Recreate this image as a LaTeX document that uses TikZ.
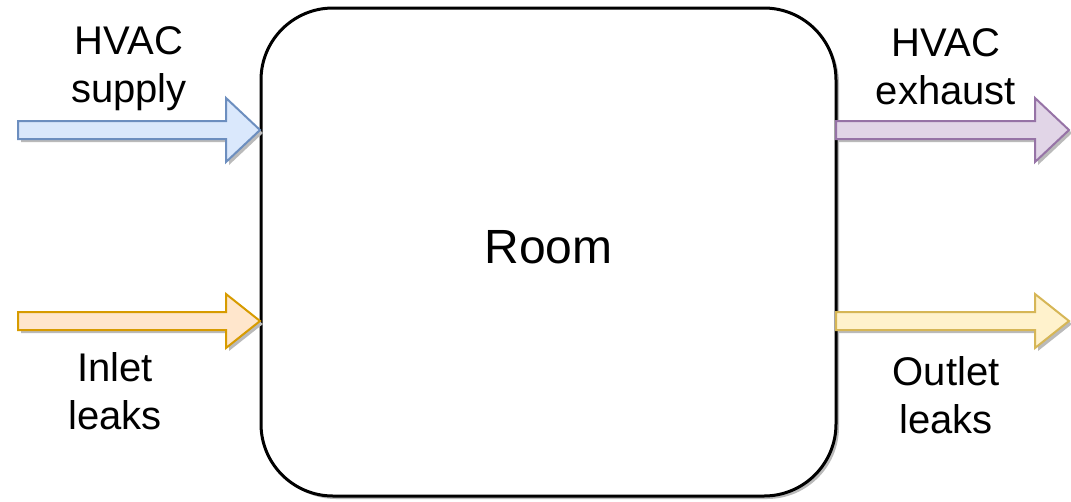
\documentclass[tikz,border=0pt]{standalone}
\usepackage{fontspec}
\setmainfont{Liberation Sans}
\usetikzlibrary{shadows}
\definecolor{supfill}{HTML}{DAE8FC}\definecolor{supline}{HTML}{6C8EBF}
\definecolor{exhfill}{HTML}{E1D5E7}\definecolor{exhline}{HTML}{9673A6}
\definecolor{inlfill}{HTML}{FFE6CC}\definecolor{inlline}{HTML}{D79B00}
\definecolor{outfill}{HTML}{FFF2CC}\definecolor{outline}{HTML}{D6B656}
\tikzset{
  shade box/.style={drop shadow={shadow xshift=2.25pt,shadow yshift=-2.25pt,fill=black!27,opacity=1}},
  roombox/.style={draw,line width=2.25pt,rounded corners=54pt,fill=white,shade box,text depth=7.5pt,font=\fontsize{36}{42}\selectfont},
  flowlabel/.style={align=center,font=\fontsize{30}{36}\selectfont}
}
% tail x, tip x, y, head half-height, colours
\newcommand{\flow}[6]{\draw[line width=1.5pt,draw=#6,fill=#5,shade box] (#1,#3-9) -- (#2-34,#3-9) -- (#2-34,#3-#4) -- (#2,#3) -- (#2-34,#3+#4) -- (#2-34,#3+9) -- (#1,#3+9) -- cycle;}
\begin{document}
\begin{tikzpicture}[x=0.75pt,y=-0.75pt]
\useasboundingbox (0,0) rectangle (1071,501);
\node[roombox,minimum width=431.25pt,minimum height=366pt] (room) at (548.5,252) {Room};
\flow{18}{260}{130}{32}{supfill}{supline}
\flow{18}{260}{321}{27}{inlfill}{inlline}
\flow{836}{1069}{130}{32}{exhfill}{exhline}
\flow{836}{1069}{321}{27}{outfill}{outline}
\node[flowlabel] (supply) at (129,69) {HVAC\\supply};
\node[flowlabel] (exhaust) at (946,67) {HVAC\\exhaust};
\node[flowlabel] (inlet) at (115,391) {Inlet\\leaks};
\node[flowlabel] (outlet) at (946,395) {Outlet\\leaks};
\end{tikzpicture}
\end{document}
